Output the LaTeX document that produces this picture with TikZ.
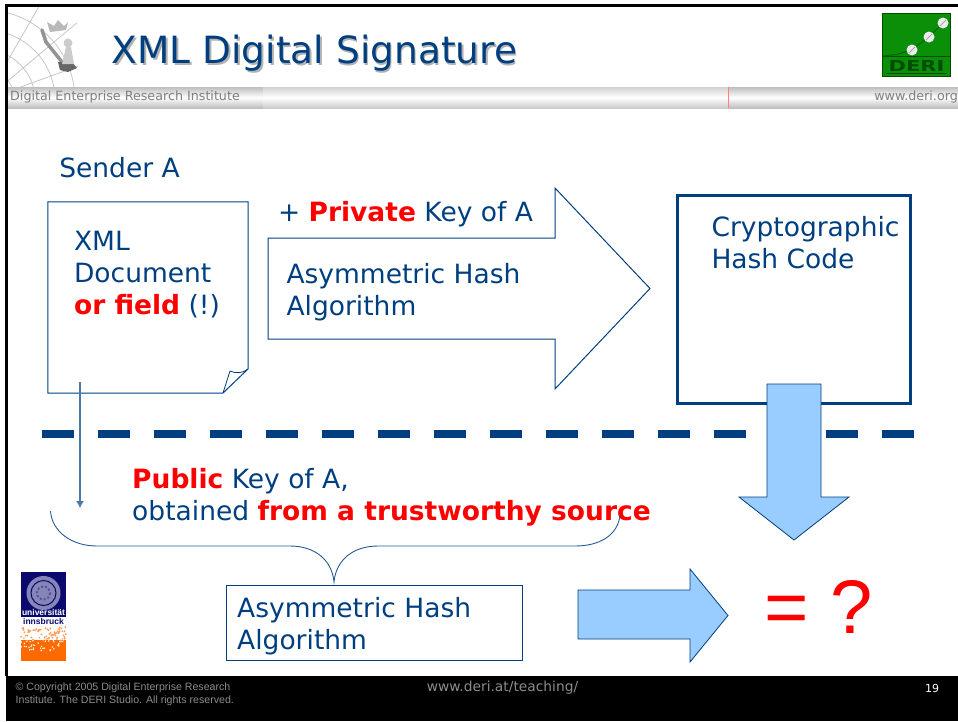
\documentclass[tikz,border=0pt]{standalone}
\usepackage{fontspec}
\setmainfont{DejaVu Sans}
\newfontfamily\arialfont{Liberation Sans}
\usepackage{tikz}
\usetikzlibrary{positioning,arrows.meta}
\definecolor{deriblue}{HTML}{003F7F}
\definecolor{lightarrow}{HTML}{99CCFF}
\definecolor{bandgray}{HTML}{BEBEBE}
\definecolor{logogreen}{HTML}{0B8F08}
\definecolor{unisblue}{HTML}{0A0A6E}
\definecolor{unisorange}{HTML}{FF6A00}
\tikzset{
	bodytext/.style={text=deriblue,inner sep=0pt,align=left,font=\fontsize{26.5}{32}\selectfont},
	bandtext/.style={text=gray,inner sep=0pt,font=\fontsize{12.7}{15}\selectfont},
	outline/.style={draw=deriblue,line width=1pt},
	blockarrow/.style={draw=deriblue,line width=0.8pt,fill=lightarrow},
	globeline/.style={gray!45,line width=0.8pt}
}
\begin{document}
\begin{tikzpicture}[x=1pt,y=-1pt,node distance=20pt,on grid,line join=miter]
	\useasboundingbox (0,0) rectangle (958,721);
	% frame and bands
	\fill[black] (5,4) rectangle (958,6.5);
	\fill[black] (5,4) rectangle (8,676);
	\fill[black] (6,676) rectangle (958,721);
	\shade[top color=bandgray,bottom color=bandgray,middle color=white] (8,87) rectangle (263,108);
	\shade[top color=bandgray!70,bottom color=bandgray!80,middle color=white] (263,87) rectangle (728,108);
	\shade[top color=bandgray,bottom color=bandgray,middle color=white] (728,87) rectangle (958,108);
	\draw[red!50,line width=0.7pt] (728,87) -- (728,108);
	% globe and chess figures
	\begin{scope}
		\clip (8,7) rectangle (78,86);
		\foreach \r in {30,50,70,90}
			\draw[globeline] (-15,100) circle (\r);
		\foreach \a in {-80,-60,-40,-20,0}
			\draw[globeline] (-15,100) -- ++(\a:120);
	\end{scope}
	\draw[gray!85,line width=3.5pt,line cap=round] (42,30) -- (46,42) -- (62,62);
	\fill[gray!80!black] (58,62) -- (72,62) -- (77,68) -- (68,72) -- (60,70) -- cycle;
	\fill[gray!40] (68,43) circle (4.5);
	\fill[gray!40] (62,64) -- (66,47) -- (71,47) -- (74,64) -- cycle;
	\fill[gray!55] (47,22) -- (50,32) -- (66,30) -- (68,22) -- (64,26) -- (58,20) -- (54,26) -- cycle;
	% title
	\node[text=gray!60,inner sep=0pt,font=\fontsize{37.5}{40}\selectfont] (titleshade) at (316,55) {XML Digital Signature};
	\node[text=deriblue,inner sep=0pt,font=\fontsize{37.5}{40}\selectfont] (title) [above left=1.5pt and 1.5pt of titleshade] {XML Digital Signature};
	\node[bandtext,anchor=west] (institute) at (10,97) {Digital Enterprise Research Institute};
	\node[bandtext,anchor=east] (website) at (958,97) {www.deri.org};
	% DERI logo
	\node[draw=black!70!green,line width=1pt,fill=logogreen,minimum width=68pt,minimum height=63pt,inner sep=0pt] (derilogo) at (916.5,45) {};
	\draw[black!60!green,line width=1pt] (883,56) -- (897,54.5) -- (912,49.5) -- (929,37) -- (943,23);
	\draw[black!70!green,line width=1.5pt] (883,56.5) -- (950,56.5);
	\draw[black!70!green,line width=1pt] (886,73.5) -- (947,73.5);
	\foreach \px/\py in {912/50,929/37,943/23}{
		\fill[gray!15] (\px,\py) circle (5.5);
		\draw[gray!70,line width=1pt] (\px-3,\py+3) -- (\px+3,\py-3);
	}
	\node[text=black!70!green,inner sep=0pt,xscale=1.4,transform shape,font=\fontsize{15}{15}\selectfont\bfseries] (deriname) [below=21pt of derilogo] {DERI};
	% university logo
	\fill[unisblue] (21,572) rectangle (66,616.5);
	\fill[unisorange] (21,640) rectangle (66,661);
	\pgfmathsetseed{19}
	\foreach \n in {1,...,70}
		\fill[unisorange!70!white] (21+45*rnd,627+14*rnd) circle (1);
	\foreach \n in {1,...,45}
		\fill[white] (21+45*rnd,638+13*rnd) circle (0.8);
	\fill[white!50!unisblue] (43.5,593) circle (17);
	\draw[unisblue,line width=1pt] (43.5,593) circle (12.5);
	\draw[unisblue!70!white,line width=2pt,dotted] (43.5,593) circle (6.5);
	\node[text=white,inner sep=0pt,font=\fontsize{8.5}{9}\selectfont\bfseries\arialfont] (unisname) at (43.5,612.5) {universität};
	\node[text=unisblue,inner sep=0pt,font=\fontsize{8.5}{9}\selectfont\bfseries\arialfont] (unisplace) [below=8.5pt of unisname] {innsbruck};
	% dashes behind the arrow
	\draw[deriblue,line width=8pt,dash pattern=on 32pt off 24pt] (42,434) -- (915,434);
	% top row
	\node[bodytext] (sender) at (119.5,168) {Sender A};
	\node[minimum width=200pt,minimum height=191pt,inner sep=0pt] (doc) [below right=129.5pt and 28.5pt of sender] {};
	\draw[outline] (doc.north west) -- (doc.north east) -- (248,369) -- (223,393) -- (doc.south west) -- cycle;
	\draw[deriblue,line width=0.8pt] (223,393) -- (230,371) .. controls (236,374) and (243,373) .. (248,369);
	\node[bodytext] (doctext) [above=22.5pt of doc,xshift=-1pt] {XML\\Document\\{\color{red}\bfseries or field} (!)};
	\draw[outline] (268,238) -- (555,238) -- (555,188) -- (650,288.5) -- (555,389) -- (555,339) -- (268,339) -- cycle;
	\node[bodytext] (keytext) at (405.5,214) {+ {\color{red}\bfseries Private} Key of A};
	\node[bodytext] (algotext) [below=78.5pt of keytext,xshift=-2pt] {Asymmetric Hash\\Algorithm};
	\node[draw=deriblue,line width=3.5pt,minimum width=233pt,minimum height=208pt,inner sep=0pt] (crypt) at (794,299.5) {};
	\node[bodytext] (crypttext) [above=56.5pt of crypt,xshift=11.5pt] {Cryptographic\\Hash Code};
	\draw[blockarrow] (767,384) -- (821,384) -- (821,497) -- (849,497) -- (794,540) -- (739,497) -- (767,497) -- cycle;
	% lower half
	\node[bodytext] (pubtext) at (391.5,497) {{\color{red}\bfseries Public} Key of A,\\obtained {\color{red}\bfseries from a trustworthy source}};
	\node[draw=deriblue,line width=1pt,minimum width=296pt,minimum height=75pt,inner sep=0pt] (hashbox) at (374,622.5) {};
	\node[bodytext,anchor=west] (hashlabel) at (237,626) {Asymmetric Hash\\Algorithm};
	\coordinate (docfoot) at (80,382);
	\coordinate (bracefoot) at (80,508);
	\coordinate (braceleft) at (50.5,511);
	\coordinate (braceright) at (620,515);
	\coordinate (bracetip) at (334,582);
	\draw[-{Latex[length=7pt,width=8pt]},deriblue!70!white,line width=1.1pt] (docfoot) -- (bracefoot);
	\draw[deriblue!85!white,line width=0.9pt] (braceleft) .. controls (52,532) and (72,546) .. (97,546) -- (290,546) .. controls (315,546) and (332,560) .. (bracetip) .. controls (336,560) and (353,546) .. (378,546) -- (575,546) .. controls (600,546) and (618,535) .. (braceright);
	\draw[blockarrow] (578,590) -- (690,590) -- (690,569) -- (728,615.5) -- (690,662) -- (690,639) -- (578,639) -- cycle;
	\node[text=red,inner sep=0pt,font=\fontsize{76}{76}\selectfont\arialfont] (verdict) at (818.5,607) {= ?};
	% footer
	\node[text=white!55!black,inner sep=0pt,align=left,anchor=west,font=\fontsize{10.6}{13}\selectfont\arialfont] (copyright) at (15.5,694) {© Copyright 2005 Digital Enterprise Research\\Institute. The DERI Studio. All rights reserved.};
	\node[text=white!55!black,inner sep=0pt,font=\fontsize{13.8}{15}\selectfont] (footurl) at (502.5,688) {www.deri.at/teaching/};
	\node[text=white,inner sep=0pt,font=\fontsize{11}{13}\selectfont] (pageno) at (932,688) {19};
\end{tikzpicture}
\end{document}
